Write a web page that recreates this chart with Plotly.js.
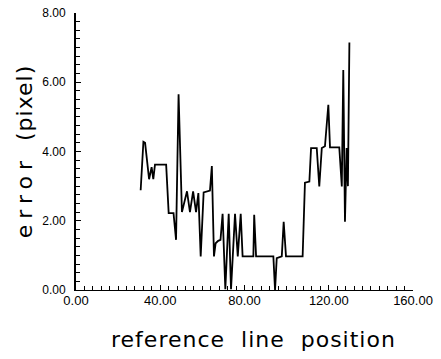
<!DOCTYPE html>
<html>
<head>
<meta charset="utf-8">
<script src="https://cdn.plot.ly/plotly-3.0.1.min.js"></script>
<style>html,body{margin:0;padding:0;background:#fff;}#chart{width:441px;height:359px;}</style>
</head>
<body>
<div id="chart"></div>
<script>
// reference line position
var positions = [30.7, 32.0, 32.8, 34.7, 35.9, 36.7, 37.5, 42.8, 44.0, 46.3, 47.5, 48.7, 50.3, 52.7, 54.1, 55.6, 57.0, 58.1, 59.2, 60.6, 63.6, 64.5, 65.5, 66.3, 67.5, 68.6, 69.6, 70.9, 72.5, 73.6, 75.5, 76.8, 78.2, 79.1, 84.2, 84.6, 85.5, 93.7, 94.5, 95.3, 97.7, 98.6, 99.7, 107.6, 108.7, 110.8, 111.6, 114.3, 115.5, 116.7, 118.2, 119.8, 120.6, 125.0, 126.2, 126.9, 127.7, 128.5, 129.1, 129.8];
// error (pixel)
var errors = [2.88, 4.28, 4.25, 3.2, 3.55, 3.2, 3.62, 3.62, 2.22, 2.22, 1.45, 5.65, 2.25, 2.85, 2.25, 2.85, 2.25, 2.8, 0.97, 2.82, 2.87, 3.58, 0.97, 1.35, 1.42, 1.45, 2.2, 0.02, 2.2, 0.02, 2.2, 0.97, 2.2, 0.97, 0.97, 2.17, 0.97, 0.97, 0.0, 0.92, 0.97, 1.97, 0.97, 0.97, 3.1, 3.13, 4.1, 4.1, 2.99, 4.1, 4.15, 5.35, 4.12, 4.12, 2.99, 6.35, 1.97, 4.1, 3.0, 7.15];
var xTickVals = [0, 40, 80, 120, 160];
var xTickText = ["0.00", "40.00", "80.00", "120.00", "160.00"];
var yTickVals = [0, 2, 4, 6, 8];
var yTickText = ["0.00", "2.00", "4.00", "6.00", "8.00"];
var xTitle = 'reference\u00a0 line\u00a0 position';

var trace = {
  x: positions, y: errors, type: 'scatter', mode: 'lines',
  line: {color: '#000', width: 1.8}, hoverinfo: 'skip'
};
var layout = {
  width: 441, height: 359,
  margin: {l: 76, r: 28, t: 13, b: 69},
  paper_bgcolor: '#fff', plot_bgcolor: '#fff',
  showlegend: false,
  font: {family: 'Liberation Sans, Arial, sans-serif', color: '#000'},
  xaxis: {
    range: [0, 160], showgrid: false, zeroline: false,
    showline: true, linecolor: '#000', linewidth: 1,
    tickmode: 'array', tickvals: xTickVals, ticktext: xTickText,
    ticks: 'inside', ticklen: 5, tickwidth: 1, tickcolor: '#000',
    minor: {dtick: 4, ticks: 'inside', ticklen: 4, tickwidth: 1, tickcolor: '#000', showgrid: false},
    tickfont: {size: 13, family: 'Liberation Sans, Arial, sans-serif'},
    ticklabelstandoff: -2
  },
  yaxis: {
    range: [0, 8], showgrid: false, zeroline: false,
    showline: true, linecolor: '#000', linewidth: 2,
    tickmode: 'array', tickvals: yTickVals, ticktext: yTickText,
    ticks: 'inside', ticklen: 5, tickwidth: 1, tickcolor: '#000',
    minor: {dtick: 0.25, ticks: 'inside', ticklen: 4, tickwidth: 1, tickcolor: '#000', showgrid: false},
    tickfont: {size: 12, family: 'Liberation Sans, Arial, sans-serif'},
    ticklabelstandoff: 6,
    title: {text: '<span style="letter-spacing:6px">error</span>\u00a0 <span style="letter-spacing:1px">(pixel)</span>', font: {size: 22, family: 'DejaVu Sans, sans-serif'}, standoff: 4}
  },
  annotations: [{
    xref: 'paper', yref: 'paper', x: 0.528, y: -0.18,
    xanchor: 'center', yanchor: 'middle', showarrow: false,
    text: '<span style="letter-spacing:1px">' + xTitle + '</span>',
    font: {size: 22, family: 'DejaVu Sans, sans-serif', color: '#000'}
  }]
};
Plotly.newPlot('chart', [trace], layout, {displayModeBar: false, staticPlot: true});
</script>
</body>
</html>
